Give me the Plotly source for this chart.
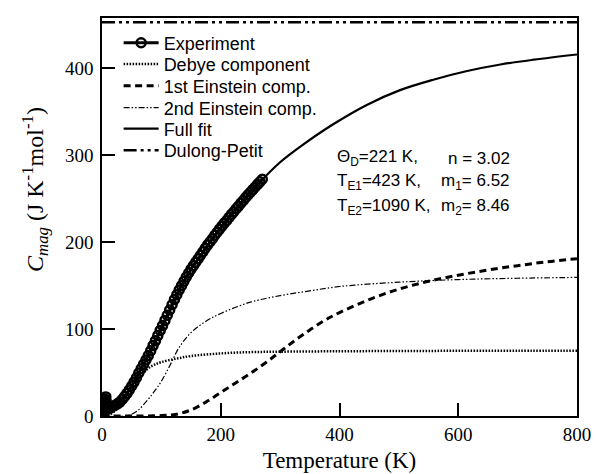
import plotly.graph_objects as go

# ---------------- data ----------------
exp_T = [1, 2, 3, 4, 5, 5.5, 6, 6.5, 7, 8, 9, 10, 14, 18, 22, 26, 30, 34, 38, 42,
         46, 50, 54, 58, 62, 66, 70, 74, 78, 82, 86, 90, 94, 98, 102, 106, 110, 114,
         118, 122, 126, 130, 134, 138, 142, 146, 150, 154, 158, 162, 166, 170, 174,
         178, 182, 186, 190, 194, 198, 202, 206, 210, 214, 218, 222, 226, 230, 234,
         238, 242, 246, 250, 254, 258, 262, 266, 270]
exp_C = [0.5, 2, 4, 7, 11, 15, 19, 22, 17, 12, 10, 9, 9.5, 11, 12.5, 14, 16, 19, 22.5, 26,
         30, 34.5, 39, 44, 49.5, 54.5, 59.5, 64.5, 69.5, 75, 81, 86.5, 92.5, 98.5, 104, 110, 116, 122,
         128, 134, 139.5, 145, 150, 155, 160, 164.5, 169, 173, 177, 181, 185, 189, 193,
         197, 200.5, 204, 208, 211.5, 215, 218.5, 222, 225, 228.5, 232, 235, 238.5, 241.5, 245,
         248, 251.5, 254.5, 257.5, 260.5, 263.5, 266.5, 269.5, 272.5]

debye_T = [0, 10, 20, 30, 40, 50, 60, 70, 80, 90, 100, 125, 150, 200, 250, 300, 400, 500, 600, 700, 800]
debye_C = [0, 1, 5, 12, 22, 32, 42, 50, 56, 59.5, 62, 66, 69, 72, 73.5, 74, 74.5, 74.8, 75, 75.1, 75.2]

ein1_T = [0, 50, 100, 125, 150, 175, 200, 225, 250, 275, 300, 325, 350, 375, 400, 450, 500, 550, 600, 650, 700, 750, 800]
ein1_C = [0, 0, 0.5, 2, 7, 16, 27, 38, 49, 61, 74, 87, 99, 110, 119, 134, 146, 155, 162, 168, 173, 177.5, 181]

ein2_T = [0, 40, 50, 60, 70, 80, 90, 100, 115, 130, 150, 175, 200, 250, 300, 350, 400, 500, 600, 700, 800]
ein2_C = [0, 0, 2, 6, 13, 21, 30, 40, 59, 79, 96, 109, 118, 131, 138.5, 144, 149, 154, 157, 158.5, 159.5]

fit_T = [0, 10, 20, 30, 40, 50, 60, 70, 80, 90, 100, 115, 130, 150, 165, 180, 200, 216, 233, 250,
         266, 300, 334, 390, 446, 502, 558, 615, 671, 727, 800]
fit_C = [0, 2, 6, 13, 23, 35, 47, 59, 72, 85, 101, 123, 145, 169, 184, 199, 216, 229, 243, 256,
         269, 292, 310, 336, 358, 375, 387, 397, 404.5, 410, 416]

dp_T = [0, 800]
dp_C = [453, 453]

x_ticks = [0, 200, 400, 600, 800]
y_ticks = [0, 100, 200, 300, 400]

names = ["Experiment", "Debye component", "1st Einstein comp.", "2nd Einstein comp.",
         "Full fit", "Dulong-Petit"]

# ---------------- figure ----------------
SERIF = "Liberation Serif"
SANS = "Liberation Sans"

fig = go.Figure()

legend_keys = ["legend"] + [f"legend{i}" for i in range(2, 7)]

fig.add_trace(go.Scatter(x=debye_T, y=debye_C, mode="lines", name=names[1],
                         line=dict(color="black", width=2.5, dash="1.5px,1.5px", shape="spline"),
                         legend=legend_keys[1]))
fig.add_trace(go.Scatter(x=ein1_T, y=ein1_C, mode="lines", name=names[2],
                         line=dict(color="black", width=3, dash="7px,4.5px", shape="spline"),
                         legend=legend_keys[2]))
fig.add_trace(go.Scatter(x=ein2_T, y=ein2_C, mode="lines", name=names[3],
                         line=dict(color="black", width=1.2, dash="6px,2px,1.5px,2px,1.5px,2px",
                                   shape="spline"),
                         legend=legend_keys[3]))
fig.add_trace(go.Scatter(x=fit_T, y=fit_C, mode="lines", name=names[4],
                         line=dict(color="black", width=2.2, shape="spline"),
                         legend=legend_keys[4]))
fig.add_trace(go.Scatter(x=dp_T, y=dp_C, mode="lines", name=names[5],
                         line=dict(color="black", width=2.5, dash="13px,4px,3px,4px,3px,4px"),
                         legend=legend_keys[5]))
fig.add_trace(go.Scatter(x=exp_T, y=exp_C, mode="lines+markers", name=names[0],
                         line=dict(color="black", width=3),
                         marker=dict(symbol="circle-open", size=9, color="black",
                                     line=dict(width=2.5, color="black")),
                         legend=legend_keys[0]))

# legend rows (pixel centres of rows in the reference)
row_px = [43, 64.3, 86, 108, 129, 150.5]
plot_top, plot_bot, plot_left, plot_w = 18, 416, 102, 475
for key, ypx in zip(legend_keys, row_px):
    fig.update_layout({key: dict(
        x=0.035, xanchor="left",
        y=(plot_bot - ypx) / (plot_bot - plot_top), yanchor="middle",
        bgcolor="rgba(0,0,0,0)", borderwidth=0,
        font=dict(family=SANS, size=18, color="black"),
        itemwidth=35, tracegroupgap=0)})

# parameter annotations
left_txt = ["Θ<sub>D</sub>=221 K,", "T<sub>E1</sub>=423 K,", "T<sub>E2</sub>=1090 K,"]
right_txt = ["n = 3.02", "m<sub>1</sub>= 6.52", "m<sub>2</sub>= 8.46"]
ann_y = [296.9, 269.3, 240.5]
for lt, rt, yy in zip(left_txt, right_txt, ann_y):
    fig.add_annotation(x=392, y=yy, xref="x", yref="y", text=lt, showarrow=False,
                       xanchor="left", yanchor="middle",
                       font=dict(family=SANS, size=17, color="black"))
    fig.add_annotation(x=691, y=yy, xref="x", yref="y", text=rt, showarrow=False,
                       xanchor="right", yanchor="middle",
                       font=dict(family=SANS, size=17, color="black"))

# y-axis title (placed as rotated text so it can sit where the reference has it)
fig.add_annotation(x=(35 - plot_left) / plot_w, y=(plot_bot - 190) / (plot_bot - plot_top),
                   xref="paper", yref="paper", showarrow=False, textangle=-90,
                   xanchor="center", yanchor="middle",
                   text="<i>C</i><sub><i>mag</i></sub> (J K<sup>-1</sup>mol<sup>-1</sup>)",
                   font=dict(family=SERIF, size=24, color="black"))

axis_common = dict(showgrid=False, zeroline=False, showline=True, linecolor="black",
                   linewidth=1.5, mirror=True, ticks="inside", ticklen=13, tickwidth=1.5,
                   tickcolor="black", automargin=False,
                   tickfont=dict(family=SERIF, size=19, color="black"))

fig.update_xaxes(range=[0, 800], tickvals=x_ticks, ticktext=[str(v) for v in x_ticks],
                 title=dict(text="Temperature (K)", font=dict(family=SERIF, size=23, color="black"),
                            standoff=8),
                 **axis_common)
fig.update_yaxes(range=[0, 458], tickvals=y_ticks, ticktext=[str(v) for v in y_ticks],
                 ticklabelstandoff=3,
                 **axis_common)

fig.update_layout(width=596, height=474, margin=dict(l=102, r=19, t=18, b=58),
                  plot_bgcolor="white", paper_bgcolor="white", showlegend=True)

fig.write_html("out.html")
